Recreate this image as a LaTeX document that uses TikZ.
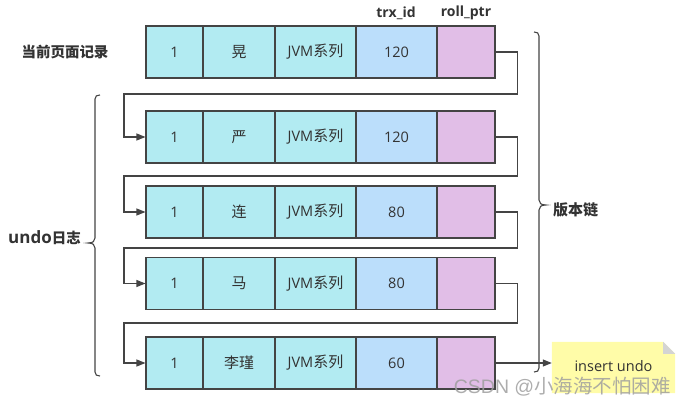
\documentclass[tikz,border=0pt]{standalone}
\usepackage{fontspec}
\setmainfont{Open Sans}
\newfontfamily\cjk{Noto Sans CJK SC}
\newfontfamily\wmlatin{Liberation Sans}
\usetikzlibrary{arrows.meta,calc}
\definecolor{cyancell}{HTML}{B2EBF2}
\definecolor{bluecell}{HTML}{BBDEFB}
\definecolor{pinkcell}{HTML}{E1BEE7}
\definecolor{edge}{HTML}{444444}
\definecolor{txt}{HTML}{333333}
\definecolor{notefill}{HTML}{FFFCA8}
\definecolor{notefold}{HTML}{D4D4D4}
\tikzset{
  cellbox/.style={draw=edge, line width=1.1pt, minimum height=52pt, inner sep=0pt, text=txt, font=\fontsize{14.5}{16}\selectfont},
  c0/.style={cellbox, fill=cyancell, minimum width=57pt},
  c1/.style={cellbox, fill=cyancell, minimum width=72pt},
  c2/.style={cellbox, fill=cyancell, minimum width=81pt},
  c3/.style={cellbox, fill=bluecell, minimum width=81pt},
  c4/.style={cellbox, fill=pinkcell, minimum width=58pt},
  conn/.style={draw=edge, line width=1.1pt},
  connarrow/.style={conn, -{Triangle[length=9pt,width=7pt]}},
  bracestyle/.style={draw=edge, line width=1.1pt},
  lbl/.style={text=txt, font=\fontsize{14}{16}\selectfont\bfseries, inner sep=0pt},
}
\begin{document}
\begin{tikzpicture}[x=1pt,y=-1pt]
\useasboundingbox (0,0) rectangle (683,406);
% rows
\foreach \r/\y/\name in {0/52/晃,1/137/严,2/212/连,3/283.5/马,4/363/李瑾}{
  \node[c0] (r\r c0) at (174.5,\y) {1};
  \node[c1] (r\r c1) at (239,\y) {{\cjk\fontsize{15}{16}\selectfont\name}};
  \node[c2] (r\r c2) at (315.5,\y) {JVM{\cjk\fontsize{15}{16}\selectfont 系列}};
  \node[c4] (r\r c4) at (466,\y) {};
}
\node[c3] (r0c3) at (396.5,52) {120};
\node[c3] (r1c3) at (396.5,137) {120};
\node[c3] (r2c3) at (396.5,212) {80};
\node[c3] (r3c3) at (396.5,283.5) {80};
\node[c3] (r4c3) at (396.5,363) {60};
% headers
\node[lbl] (h1) at (396,13) {trx\_id};
\node[lbl] (h2) at (466,13) {roll\_ptr};
\node[lbl] (cur) at (65,52) {\cjk\bfseries\fontsize{14.5}{16}\selectfont 当前页面记录};
% connectors
\coordinate (b0) at (124,94);
\coordinate (b1) at (124,176);
\coordinate (b2) at (124,248);
\coordinate (b3) at (124,323);
\draw[connarrow] (r0c4.east) -- ++(22,0) |- (b0) |- (r1c0.west);
\draw[connarrow] (r1c4.east) -- ++(22,0) |- (b1) |- (r2c0.west);
\draw[connarrow] (r2c4.east) -- ++(22,0) |- (b2) |- (r3c0.west);
\draw[connarrow] (r3c4.east) -- ++(22,0) |- (b3) |- (r4c0.west);
% note
\node[minimum width=123pt, minimum height=51pt, inner sep=0pt] (note) at (613.5,367.5) {};
\fill[notefill] (note.north west) -- ($(note.north east)+(-12,0)$) -- ($(note.north east)+(0,12)$) -- (note.south east) -- (note.south west) -- cycle;
\fill[notefold] ($(note.north east)+(-12,0)$) -- ($(note.north east)+(-12,12)$) -- ($(note.north east)+(0,12)$) -- cycle;
\node[text=txt, font=\fontsize{14.5}{16}\selectfont, inner sep=0pt] (notetxt) at ($(note.center)+(0,-1.5)$) {insert undo};
\draw[connarrow] (r4c4.east) -- (r4c4.east -| note.west);
% left brace
\draw[bracestyle] (100,95) .. controls (97,95) and (95,96) .. (95,99) -- (95,238) .. controls (95,241) and (93,243) .. (88,243) .. controls (93,243) and (95,245) .. (95,248) -- (95,372) .. controls (95,375) and (97,376) .. (100,376);
\node[lbl, anchor=east] (undo) at (81,238) {{\fontsize{17}{18}\selectfont undo}{\cjk\bfseries\fontsize{14.5}{16}\selectfont 日志}};
% right brace
\draw[bracestyle] (534,32) .. controls (537,32) and (539,33) .. (539,36) -- (539,200) .. controls (539,203) and (541,205) .. (546,205) .. controls (541,205) and (539,207) .. (539,210) -- (539,368) .. controls (539,371) and (537,372) .. (534,372);
\node[lbl, anchor=west] (chain) at (553,210) {\cjk\bfseries\fontsize{15}{16}\selectfont 版本链};
% watermark
\node[text=gray!75, opacity=0.85, font=\fontsize{19.5}{21}\selectfont, inner sep=0pt, anchor=east] (wm) at (671,387) {\wmlatin CSDN @{\cjk 小海海不怕困难}};
\end{tikzpicture}
\end{document}
